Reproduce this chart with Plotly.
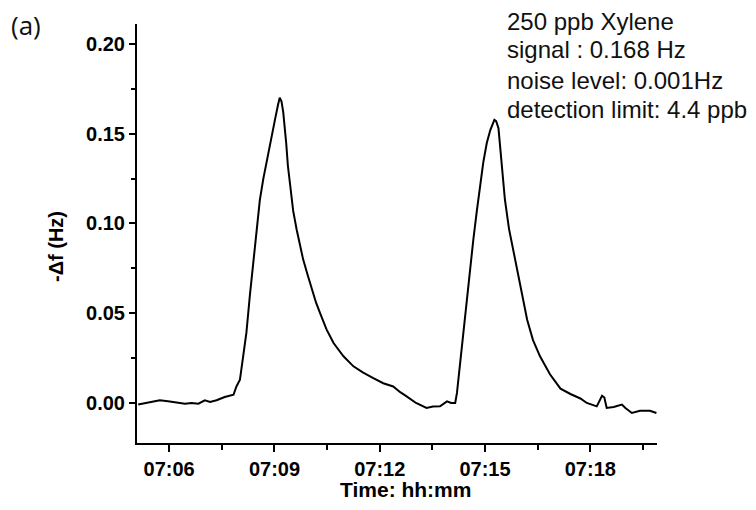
import plotly.graph_objects as go

day = "2024-01-01 "
times = [
    "07:05:07", "07:05:27", "07:05:44", "07:05:58", "07:06:13", "07:06:27", "07:06:38", "07:06:50",
    "07:07:01", "07:07:10", "07:07:21", "07:07:35", "07:07:50", "07:07:55",
    "07:08:01", "07:08:06", "07:08:12", "07:08:18", "07:08:24", "07:08:30", "07:08:35", "07:08:41",
    "07:08:47", "07:08:54", "07:09:01", "07:09:06", "07:09:09", "07:09:12", "07:09:15", "07:09:20",
    "07:09:23", "07:09:27", "07:09:32", "07:09:38", "07:09:44", "07:09:49", "07:09:57", "07:10:04",
    "07:10:11", "07:10:18", "07:10:29", "07:10:41", "07:10:58", "07:11:15", "07:11:31", "07:11:49",
    "07:12:06", "07:12:23", "07:12:35", "07:12:46", "07:13:02", "07:13:20", "07:13:31", "07:13:43",
    "07:13:55", "07:14:02", "07:14:09", "07:14:12", "07:14:16", "07:14:20", "07:14:29", "07:14:35",
    "07:14:40", "07:14:46", "07:14:52", "07:14:57", "07:15:03", "07:15:09", "07:15:16", "07:15:19",
    "07:15:23", "07:15:28", "07:15:34", "07:15:41", "07:15:49", "07:16:00", "07:16:12", "07:16:22",
    "07:16:34", "07:16:51", "07:17:09", "07:17:26", "07:17:43", "07:17:54", "07:18:11", "07:18:20",
    "07:18:24", "07:18:28", "07:18:40", "07:18:54", "07:19:00", "07:19:11", "07:19:25", "07:19:42",
    "07:19:53",
]
delta_f = [
    -0.0009, 0.0003, 0.0015, 0.0009, 0.0003, -0.0004, 0.000, -0.0004,
    0.0015, 0.0006, 0.0015, 0.0033, 0.0046, 0.0092,
    0.013, 0.025, 0.039, 0.060, 0.080, 0.097, 0.113, 0.125,
    0.1355, 0.148, 0.158, 0.166, 0.170, 0.168, 0.162, 0.145,
    0.132, 0.121, 0.107, 0.0965, 0.087, 0.080, 0.071, 0.063,
    0.056, 0.050, 0.041, 0.0334, 0.026, 0.0204, 0.017, 0.0139,
    0.011, 0.0092, 0.006, 0.0037, 0.000, -0.0028, -0.002, -0.0019,
    0.0009, 0.000, 0.000, 0.0056, 0.018, 0.0297, 0.0575, 0.075,
    0.091, 0.107, 0.1225, 0.134, 0.1448, 0.152, 0.1577, 0.157,
    0.153, 0.136, 0.1132, 0.097, 0.0835, 0.065, 0.0464, 0.035,
    0.026, 0.016, 0.008, 0.005, 0.0025, 0.000, -0.0019, 0.004,
    0.003, -0.0028, -0.0022, -0.0009, -0.0028, -0.0056, -0.0043, -0.0043,
    -0.0056,
]
info_lines = ["250 ppb Xylene", "signal : 0.168 Hz", "noise level: 0.001Hz", "detection limit: 4.4 ppb"]

x = [day + t for t in times]

fig = go.Figure()
fig.add_trace(go.Scatter(x=x, y=delta_f, mode="lines",
                         line=dict(color="black", width=2), showlegend=False))

tick_font = dict(family="Liberation Sans, Arial", size=20, color="black", weight="bold")
fig.update_layout(
    width=756, height=510,
    margin=dict(l=137, r=99, t=24, b=67),
    paper_bgcolor="white", plot_bgcolor="white",
    font=dict(family="Liberation Sans, Arial", color="black"),
    xaxis=dict(
        type="date",
        range=[day + "07:05:05", day + "07:19:54"],
        tick0=day + "07:06:00", dtick=180000, tickformat="%H:%M",
        ticks="outside", ticklen=7, tickwidth=2, tickcolor="black",
        minor=dict(dtick=90000, ticks="outside", ticklen=5, tickwidth=2, tickcolor="black"),
        showline=True, linewidth=2, linecolor="black", mirror=False,
        showgrid=False, zeroline=False,
        tickfont=tick_font,
    ),
    yaxis=dict(
        range=[-0.0223, 0.2111],
        tick0=0, dtick=0.05, tickformat=".2f",
        ticks="outside", ticklen=6, tickwidth=2, tickcolor="black",
        minor=dict(dtick=0.025, ticks="outside", ticklen=4, tickwidth=2, tickcolor="black"),
        showline=True, linewidth=2, linecolor="black", mirror=False,
        showgrid=False, zeroline=False,
        tickfont=tick_font,
    ),
)

# axis titles
fig.add_annotation(text="<b>Time: hh:mm</b>", xref="paper", yref="paper",
                   x=(405 - 137) / 520, y=(443 - 489) / 419,
                   xanchor="center", yanchor="middle", showarrow=False,
                   font=dict(family="Liberation Sans, Arial", size=21, color="black"))
fig.add_annotation(text="<b>-Δf (Hz)</b>", xref="paper", yref="paper",
                   x=(56 - 137) / 520, y=(443 - 247) / 419, textangle=-90,
                   xanchor="center", yanchor="middle", showarrow=False,
                   font=dict(family="Liberation Sans, Arial", size=20, color="black"))

ys = [1.007, 0.938, 0.866, 0.797]
for txt, yy in zip(info_lines, ys):
    fig.add_annotation(text=txt, xref="paper", yref="paper", x=0.7077, y=yy,
                       xanchor="left", yanchor="middle", showarrow=False,
                       font=dict(family="Liberation Sans, Arial", size=24, color="#111111"))

fig.add_annotation(text="(a)", xref="paper", yref="paper", x=(26 - 137) / 520, y=(443 - 25) / 419,
                   xanchor="center", yanchor="middle", showarrow=False,
                   font=dict(family="Open Sans", size=26, color="#111111"))

fig.write_html("out.html")
